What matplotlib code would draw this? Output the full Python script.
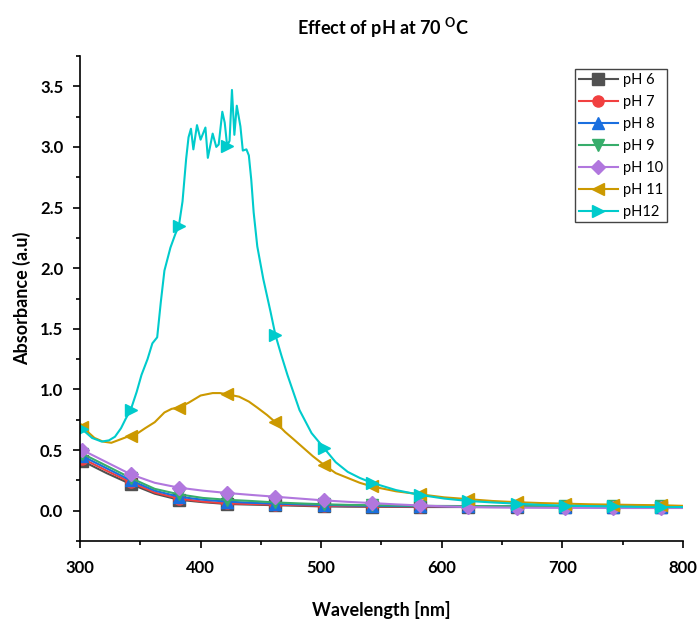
import numpy as np
import matplotlib
matplotlib.use("Agg")
import matplotlib.pyplot as plt
from matplotlib.ticker import MultipleLocator, FormatStrFormatter

plt.rcParams["font.family"] = ["Lato", "DejaVu Sans"]
plt.rcParams["font.weight"] = "bold"
plt.rcParams["mathtext.fontset"] = "custom"
plt.rcParams["mathtext.rm"] = "Lato:bold"
plt.rcParams["mathtext.bf"] = "Lato:bold"

# wavelengths where the markers sit
marker_wl = [302, 342, 382, 422, 462, 502, 542, 582, 622, 662, 702, 742, 782]

# smooth low-absorbance series (pH 6 - 10)
wl_low = [302, 322, 342, 362, 382, 402, 422, 442, 462, 482, 502, 522, 542,
          562, 582, 602, 622, 642, 662, 682, 702, 722, 742, 762, 782, 800]
ph6 = [0.41, 0.31, 0.22, 0.14, 0.09, 0.07, 0.055, 0.05, 0.045, 0.04, 0.035, 0.033, 0.032,
       0.031, 0.03, 0.03, 0.03, 0.03, 0.03, 0.03, 0.03, 0.03, 0.03, 0.03, 0.03, 0.03]
ph7 = [0.43, 0.33, 0.235, 0.15, 0.10, 0.075, 0.06, 0.055, 0.05, 0.045, 0.04, 0.038, 0.036,
       0.035, 0.034, 0.034, 0.033, 0.033, 0.033, 0.033, 0.033, 0.033, 0.033, 0.033, 0.033, 0.033]
ph8 = [0.45, 0.35, 0.25, 0.165, 0.115, 0.09, 0.075, 0.065, 0.058, 0.052, 0.047, 0.043, 0.04,
       0.038, 0.037, 0.036, 0.035, 0.035, 0.035, 0.034, 0.034, 0.034, 0.034, 0.034, 0.034, 0.034]
ph9 = [0.47, 0.37, 0.27, 0.18, 0.135, 0.105, 0.09, 0.08, 0.068, 0.06, 0.053, 0.048, 0.045,
       0.043, 0.04, 0.039, 0.038, 0.037, 0.037, 0.036, 0.036, 0.036, 0.035, 0.035, 0.035, 0.035]
ph10 = [0.50, 0.40, 0.30, 0.23, 0.19, 0.165, 0.146, 0.13, 0.115, 0.10, 0.085, 0.073, 0.063,
        0.052, 0.043, 0.036, 0.03, 0.027, 0.025, 0.024, 0.023, 0.023, 0.022, 0.022, 0.022, 0.022]

# pH 11
wl11 = [301, 302, 312, 319, 326, 334, 342, 348, 354, 362, 370, 376, 382, 390, 400, 410, 416,
        422, 432, 440, 447, 455, 462, 470, 477, 485, 493, 502, 512, 522, 532, 542, 562, 582,
        602, 622, 642, 662, 682, 702, 722, 742, 762, 782, 800]
ph11 = [0.71, 0.69, 0.60, 0.57, 0.56, 0.59, 0.62, 0.64, 0.68, 0.73, 0.81, 0.84, 0.85, 0.89,
        0.95, 0.97, 0.97, 0.96, 0.94, 0.90, 0.85, 0.79, 0.73, 0.65, 0.59, 0.52, 0.45, 0.38,
        0.31, 0.27, 0.23, 0.20, 0.16, 0.135, 0.11, 0.095, 0.08, 0.07, 0.063, 0.058, 0.053,
        0.05, 0.047, 0.045, 0.04]

# pH 12
wl12 = [301, 302, 310, 318, 324, 329, 334, 338, 342, 347, 351, 356, 360, 364, 367, 370, 375,
        379, 382, 385, 388, 390, 392, 394, 397, 400, 404, 406, 410, 413, 415, 418, 420, 422,
        424, 426, 428, 430, 433, 435, 438, 440, 442, 444, 447, 452, 458, 462, 467, 472, 482,
        492, 502, 512, 522, 532, 542, 562, 582, 602, 622, 642, 662, 682, 702, 722, 742, 762,
        782, 800]
ph12 = [0.68, 0.67, 0.60, 0.57, 0.58, 0.61, 0.68, 0.76, 0.83, 0.98, 1.12, 1.25, 1.38, 1.43,
        1.72, 1.98, 2.17, 2.28, 2.35, 2.55, 2.90, 3.08, 3.15, 2.98, 3.18, 3.06, 3.16, 2.91,
        3.11, 3.00, 3.02, 3.29, 3.20, 3.01, 3.05, 3.47, 3.10, 3.34, 3.17, 2.97, 2.98, 2.93,
        2.73, 2.46, 2.18, 1.91, 1.64, 1.45, 1.28, 1.12, 0.83, 0.64, 0.52, 0.40, 0.32, 0.27,
        0.23, 0.17, 0.13, 0.10, 0.08, 0.068, 0.058, 0.048, 0.042, 0.038, 0.035, 0.032, 0.03,
        0.03]

series = [
    ("pH 6", wl_low, ph6, "#515151", "s"),
    ("pH 7", wl_low, ph7, "#F14040", "o"),
    ("pH 8", wl_low, ph8, "#1A6FDF", "^"),
    ("pH 9", wl_low, ph9, "#37AD6B", "v"),
    ("pH 10", wl_low, ph10, "#B177DE", "D"),
    ("pH 11", wl11, ph11, "#CC9900", "<"),
    ("pH12", wl12, ph12, "#00CBCC", ">"),
]

fig = plt.figure(figsize=(6.99, 6.21), dpi=100)
ax = fig.add_axes([80 / 699, 1 - 541 / 621, 603 / 699, 485 / 621])

for label, wl, vals, color, mk in series:
    idx = [i for i, w in enumerate(wl) if w in marker_wl]
    ms = 7 if mk == "D" else 8
    ax.plot(wl, vals, color=color, lw=1.5, marker=mk, markersize=ms,
            markevery=idx, label=label)

ax.set_xlim(300, 800)
ax.set_ylim(-0.25, 3.75)
ax.xaxis.set_major_locator(MultipleLocator(100))
ax.xaxis.set_minor_locator(MultipleLocator(50))
ax.yaxis.set_major_locator(MultipleLocator(0.5))
ax.yaxis.set_minor_locator(MultipleLocator(0.25))
ax.yaxis.set_major_formatter(FormatStrFormatter("%.1f"))
ax.tick_params(which="major", direction="out", length=5, width=1.2, labelsize=12)
ax.tick_params(axis="x", which="major", pad=9)
ax.tick_params(axis="y", which="major", pad=7)
ax.tick_params(which="minor", direction="out", length=3, width=1.2)
for side in ["top", "right"]:
    ax.spines[side].set_visible(False)
for side in ["left", "bottom"]:
    ax.spines[side].set_linewidth(1.2)

ax.set_xlabel("Wavelength [nm]", fontsize=13, fontweight="bold", va="center")
ax.xaxis.set_label_coords(0.5, (541 - 610) / 485)
ax.set_ylabel("Absorbance (a.u)", fontsize=13, fontweight="bold", va="center")
ax.yaxis.set_label_coords((22 - 80) / 603, 0.5)
fig.text(383 / 699, 1 - 28 / 621, r"Effect of pH at 70 $^{\mathbf{O}}$C", ha="center",
         va="center", fontsize=13, fontweight="bold")

leg = ax.legend(loc="upper right", bbox_to_anchor=(667 / 699, 1 - 69 / 621),
                bbox_transform=fig.transFigure, handlelength=2.7, handletextpad=0.35,
                labelspacing=0.55, borderpad=0.25, borderaxespad=0, fancybox=False,
                framealpha=1, edgecolor="#444444",
                prop={"weight": "normal", "size": 10.5})
leg.get_frame().set_linewidth(1.0)

fig.savefig("out.png", dpi=100)
